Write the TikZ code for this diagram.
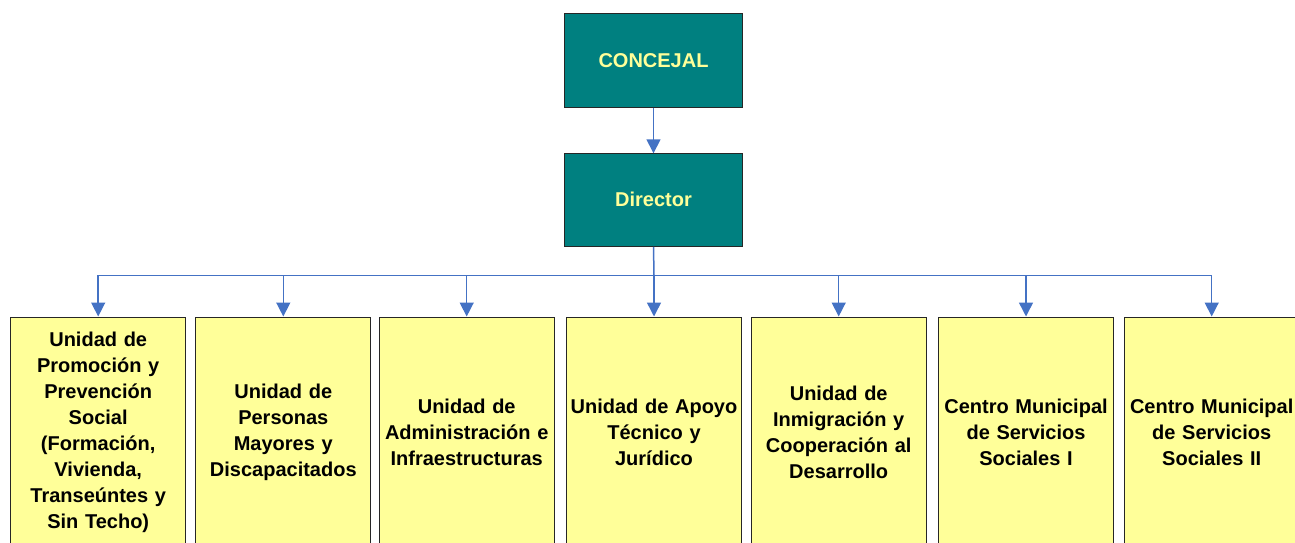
\documentclass[tikz,border=0pt]{standalone}
\usepackage{fontspec}
\setmainfont{Liberation Sans}
\usetikzlibrary{arrows.meta}
\definecolor{teal0}{HTML}{008080}
\definecolor{yel}{HTML}{FFFF99}
\definecolor{txtyel}{HTML}{FFFF99}
\definecolor{blu}{RGB}{68,114,196}
\tikzset{
  topbox/.style={draw=black!85, line width=1pt, fill=teal0, minimum width=178pt, minimum height=93pt,
    inner sep=0pt, text=txtyel, font=\fontsize{20}{26}\selectfont\bfseries},
  unitbox/.style={draw=black!85, line width=1pt, fill=yel, minimum width=175pt, minimum height=230pt,
    inner sep=0pt, align=center, text width=172pt, font=\fontsize{20}{26}\selectfont\bfseries},
  arr/.style={draw=blu, line width=1.5pt, -{Triangle[width=14pt,length=14pt]}},
  ln/.style={draw=blu, line width=1.5pt}
}
\begin{document}
\begin{tikzpicture}[x=1pt,y=-1pt]
\useasboundingbox (0,0) rectangle (1295,543);
\clip (0,0) rectangle (1295,543);
\node[topbox] (conc) at (653.5,60.5) {CONCEJAL};
\node[topbox] (dir) at (653.5,199.8) {Director};
\node[unitbox] (u1) at (98.2,432) {Unidad de\\Promoción y\\Prevención\\Social\\(Formación,\\Vivienda,\\Transeúntes y\\Sin Techo)};
\node[unitbox] (u2) at (283.3,432) {Unidad de\\Personas\\Mayores y\\Discapacitados};
\node[unitbox] (u3) at (466.7,432) {Unidad de\\Administración e\\Infraestructuras};
\node[unitbox] (u4) at (654,432) {Unidad de Apoyo\\Técnico y\\Jurídico};
\node[unitbox] (u5) at (838.7,432) {Unidad de\\Inmigración y\\Cooperación al\\Desarrollo};
\node[unitbox] (u6) at (1026,432) {Centro Municipal\\de Servicios\\Sociales I};
\node[unitbox] (u7) at (1211.7,432) {Centro Municipal\\de Servicios\\Sociales II};
\coordinate (bus) at (654,275.3);
\draw[arr] (conc.south) -- (dir.south |- 0,153.3);
\draw[ln] (dir.south) -- (bus);
\draw[ln] (u1.north |- bus) -- (u7.north |- bus);
\foreach \u in {u1,u2,u3,u4,u5,u6,u7}{
  \draw[arr] (bus -| \u.north) -- (\u.north);
}
\end{tikzpicture}
\end{document}
